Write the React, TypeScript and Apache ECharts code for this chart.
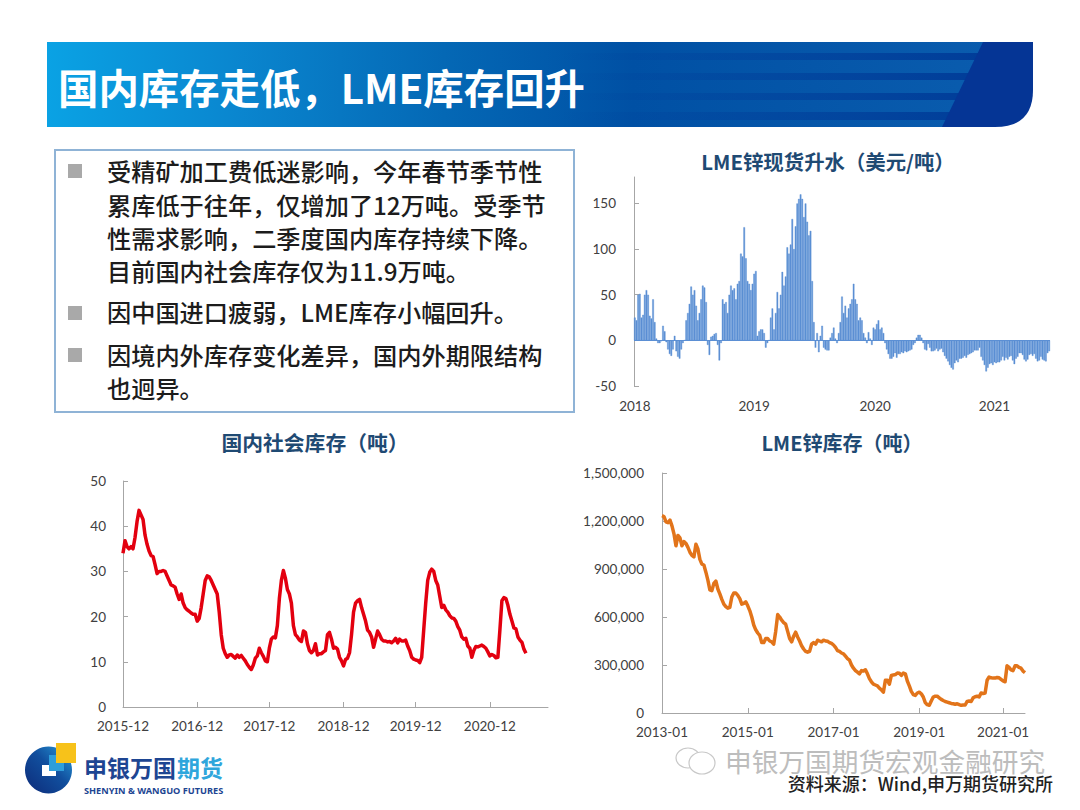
import React, { useEffect, useRef } from "react";
import * as echarts from "echarts";

const pageTitle = "国内库存走低，LME库存回升";
const bulletLines = [
  "受精矿加工费低迷影响，今年春节季节性",
  "累库低于往年，仅增加了12万吨。受季节",
  "性需求影响，二季度国内库存持续下降。",
  "目前国内社会库存仅为11.9万吨。",
  "因中国进口疲弱，LME库存小幅回升。",
  "因境内外库存变化差异，国内外期限结构",
  "也迥异。",
];
const lineCentersY = [170, 204, 237, 270, 311, 354, 387];
const bulletCentersY = [171, 313, 355];

const premiumTitle = "LME锌现货升水（美元/吨）";
const premiumTickLabels = ["2018", "2019", "2020", "2021"];
const premiumTickIdx = [0, 72, 145, 217];
const premiumValues = [
  25, 22, 50, 51, 25, 28, 50, 55, 50, 27,
  24, 45, 20, 2, -3, -3, -1, 16, 10, -2,
  -10, -15, -17, -10, 5, -12, -18, -20, -10, -3,
  0, 22, 30, 40, 59, 50, 55, 38, 22, 30,
  45, 60, 58, 42, -5, -16, 4, 5, 7, 8,
  -5, -22, -3, 45, 40, 42, 30, 50, 60, 55,
  57, 45, 62, 65, 95, 92, 124, 90, 65, 62,
  55, 62, 73, 76, 5, 10, 12, 12, 8, -8,
  -3, 0, 25, 35, 12, 30, 53, 35, 50, 75,
  60, 70, 102, 95, 105, 133, 100, 125, 150, 155,
  160, 155, 135, 150, 130, 115, 120, 65, 20, -8,
  8, -13, 5, 16, -8, -10, -11, -11, 3, 8,
  14, 2, -3, 8, 20, 48, 30, 38, 25, 35,
  40, 45, 62, 45, 40, 22, 25, 22, 8, 3,
  -3, 9, 2, -5, 14, 12, 18, 22, 12, 14,
  8, -3, -10, -15, -20, -20, -18, -14, -19, -15,
  -15, -13, -14, -12, -13, -12, -11, -10, -5, -3,
  3, 6, 6, 3, -3, -10, -11, -4, -8, -12,
  -12, -11, -9, -12, -10, -9, -13, -17, -20, -23,
  -27, -30, -32, -25, -22, -24, -20, -20, -19, -17,
  -19, -16, -15, -14, -13, -11, -11, -11, -8, -18,
  -22, -27, -34, -30, -26, -25, -27, -24, -25, -24,
  -24, -22, -18, -22, -19, -21, -18, -17, -22, -26,
  -20, -18, -14, -14, -16, -21, -23, -21, -16, -15,
  -17, -15, -20, -23, -22, -18, -21, -22, -23, -14, -12,
];

const socialTitle = "国内社会库存（吨）";
const socialTickLabels = ["2015-12", "2016-12", "2017-12", "2018-12", "2019-12", "2020-12"];
const socialTickIdx = [0, 37, 73, 110, 146, 183];
const socialCategoryCount = 213;
const socialValues = [
  34, 36.8, 35.5, 35, 35.5, 35, 37.5, 41, 43.5, 42.5, 41.5, 38, 36, 34.5, 33.5, 33.3, 31.5, 29.5,
  30, 30, 30.2, 30, 29, 28, 27, 26.8, 26.5, 25, 23.8, 25, 23, 22, 21.5, 21.2, 20.8, 20.5,
  20.5, 19, 19.6, 22, 25, 28, 29, 28.8, 28, 27, 26, 25, 21, 16, 13, 11.8, 11, 11.5,
  11.6, 11.2, 10.8, 11.5, 11, 11.4, 10.8, 10.2, 9.4, 8.8, 8.3, 9.3, 10.8, 11.3, 13, 12, 11.2, 10.2,
  10, 13, 15, 15.5, 15.3, 18, 24, 28, 30.2, 28.5, 26, 25, 23, 18, 16, 15.5, 14.8, 14.5,
  16.8, 16.5, 14, 12.5, 12, 12.5, 14, 11.5, 11.8, 11.8, 12.2, 12.5, 16, 16.5, 15, 13, 13.2, 12.8,
  11, 10.2, 9.1, 10.5, 10.8, 12, 16, 21, 23, 23.5, 23.8, 22, 20.5, 19, 17, 16.5, 15.5, 13.2,
  15, 16.8, 16, 15, 14.6, 14.6, 14.4, 14.5, 14.2, 14.6, 15.2, 14.2, 15, 14.6, 14.6, 14.8, 13.5, 12.5,
  11, 10.6, 10.4, 10.3, 9.8, 11, 17, 23, 28, 29.8, 30.5, 30, 28, 27, 24.5, 22, 22.5, 21.5,
  21, 20.2, 19.7, 19.6, 19, 17.8, 17, 15.5, 15, 15.2, 13.5, 13, 11, 12.5, 13.4, 13.3, 13.5, 13.7,
  13.4, 13, 12.2, 11.3, 11.6, 11.4, 10.9, 11, 17, 23.5, 24.2, 24, 22.5, 20.5, 19, 17.5, 17.3, 15.5,
  14.8, 14.3, 12.8, 11.9,
];

const lmeTitle = "LME锌库存（吨）";
const lmeTickLabels = ["2013-01", "2015-01", "2017-01", "2019-01", "2021-01"];
const lmeTickIdx = [0, 43, 86, 129, 171];
const lmeValues = [
  1233000, 1228000, 1195000, 1190000, 1205000, 1170000, 1120000, 1045000, 1110000, 1095000,
  1045000, 1072000, 1060000, 1035000, 1005000, 985000, 975000, 1055000, 1025000, 960000,
  930000, 925000, 880000, 830000, 770000, 765000, 810000, 825000, 775000, 745000,
  710000, 680000, 665000, 655000, 660000, 725000, 750000, 750000, 735000, 715000,
  680000, 685000, 695000, 670000, 640000, 600000, 550000, 520000, 500000, 485000,
  440000, 440000, 465000, 465000, 450000, 445000, 430000, 510000, 615000, 600000,
  580000, 565000, 555000, 510000, 465000, 445000, 480000, 505000, 475000, 450000,
  420000, 400000, 385000, 380000, 385000, 430000, 440000, 430000, 455000, 450000,
  445000, 455000, 450000, 448000, 440000, 435000, 425000, 410000, 390000, 385000,
  375000, 370000, 355000, 340000, 330000, 300000, 280000, 265000, 255000, 245000,
  265000, 262000, 270000, 245000, 215000, 195000, 180000, 175000, 170000, 155000,
  145000, 130000, 205000, 205000, 180000, 235000, 238000, 240000, 250000, 248000,
  235000, 250000, 245000, 200000, 170000, 135000, 115000, 110000, 125000, 130000,
  120000, 100000, 65000, 52000, 48000, 75000, 100000, 105000, 105000, 95000,
  85000, 78000, 72000, 68000, 64000, 60000, 58000, 55000, 58000, 52000,
  48000, 50000, 50000, 72000, 75000, 72000, 95000, 102000, 105000, 100000,
  125000, 122000, 125000, 205000, 225000, 220000, 218000, 218000, 222000, 220000,
  210000, 200000, 195000, 295000, 285000, 270000, 265000, 295000, 295000, 285000,
  280000, 262000, 252000,
];

const logoCn = ["申银万国", "期货"];
const logoEn = "SHENYIN & WANGUO FUTURES";
const watermark = "申银万国期货宏观金融研究";
const sourceNote = "资料来源：Wind,申万期货研究所";

const CJK = '"Noto Sans CJK SC"';
const NUM = "Lato";
const AXIS_GRAY = "#a6a6a6";
const LABEL = "#404040";
const TITLE = "#1f4a73";

const stripeBands = [
  [53, 7],
  [73, 7],
  [93, 7],
  [112, 8],
];

function cats(n: number, idx: number[], labels: string[]) {
  return Array.from({ length: n }, (_, i) => {
    const t = idx.indexOf(i);
    return t >= 0 ? labels[t] : `p${i}`;
  });
}

function xAxisOf(grid: number, n: number, idx: number[], labels: string[], bar: boolean) {
  const show = (i: number) => idx.includes(i);
  return {
    type: "category" as const,
    gridIndex: grid,
    data: cats(n, idx, labels),
    boundaryGap: bar,
    axisLine: { show: !bar, onZero: false, lineStyle: { color: AXIS_GRAY, width: 1 } },
    axisTick: { show: !bar, inside: true, length: 5, interval: (i: number) => show(i), lineStyle: { color: AXIS_GRAY } },
    axisLabel: {
      interval: (i: number) => show(i),
      margin: bar ? 13 : 12,
      color: LABEL,
      fontFamily: NUM,
      fontSize: 13.5,
      hideOverlap: false,
    },
    splitLine: { show: false },
  };
}

function yAxisBase(grid: number, margin: number) {
  return {
    type: "value" as const,
    gridIndex: grid,
    axisLine: { show: true, lineStyle: { color: AXIS_GRAY, width: 1 } },
    axisTick: { show: true, inside: true, length: 5, lineStyle: { color: AXIS_GRAY } },
    axisLabel: { margin, color: LABEL, fontFamily: NUM, fontSize: 13.5 },
    splitLine: { show: false },
  };
}

function text(t: string, x: number, y: number, font: string, fill: string, align = "left", extra: any = {}) {
  return {
    type: "text",
    silent: true,
    z: 20,
    style: { text: t, x, y, font, fill, textAlign: align, textVerticalAlign: "middle", ...extra },
  };
}

export default function App() {
  const ref = useRef<HTMLDivElement>(null);
  useEffect(() => {
    document.body.style.margin = "0";
    document.body.style.background = "#fff";
    echarts.graphic.registerShape(
      "bandCap",
      echarts.graphic.extendPath("M983 42 L1033 42 L1033 90 Q1033 127 995 127 L942 127 Z", {})
    );
    const chart = echarts.init(ref.current!, undefined, { renderer: "svg" });

    const h = (c0: string, c1: string) => ({
      type: "linear",
      x: 0,
      y: 0,
      x2: 1,
      y2: 0,
      colorStops: [
        { offset: 0, color: c0 },
        { offset: 1, color: c1 },
      ],
    });

    const graphics: any[] = [
      {
        type: "rect",
        silent: true,
        shape: { x: 47, y: 42, width: 945, height: 85 },
        style: {
          fill: {
            type: "linear",
            x: 0,
            y: 0,
            x2: 1,
            y2: 0,
            colorStops: [
              { offset: 0, color: "#0aa2e4" },
              { offset: 0.2, color: "#0a86cf" },
              { offset: 0.42, color: "#0468b5" },
              { offset: 0.62, color: "#0050a4" },
              { offset: 1, color: "#0a5cae" },
            ],
          },
        },
      },
      ...stripeBands.map(([y, hh]) => ({
        type: "rect",
        silent: true,
        shape: { x: 560, y, width: 432, height: hh },
        style: { fill: h("rgba(0,60,152,0)", "#003c98") },
      })),
      { type: "bandCap", x: 0, y: 0, silent: true, style: { fill: "#053595" } },
      text(pageTitle, 58, 86, `bold 40.4px ${CJK}`, "#ffffff"),

      {
        type: "rect",
        silent: true,
        shape: { x: 55, y: 150, width: 519, height: 262 },
        style: { fill: "#fff", stroke: "#8fb3d6", lineWidth: 2 },
      },
      ...bulletCentersY.map((y) => ({
        type: "rect",
        silent: true,
        shape: { x: 68, y: y - 7, width: 14, height: 14 },
        style: { fill: "#a9a9a9" },
      })),
      ...bulletLines.map((l, i) => text(l, 107, lineCentersY[i], `500 24.2px ${CJK}`, "#1c1c1c")),

      {
        type: "circle",
        silent: true,
        shape: { cx: 48.5, cy: 770, r: 23.5 },
        style: {
          fill: {
            type: "linear",
            x: 0,
            y: 1,
            x2: 1,
            y2: 0,
            colorStops: [
              { offset: 0, color: "#0d2a78" },
              { offset: 0.55, color: "#114f9e" },
              { offset: 1, color: "#2a9fdc" },
            ],
          },
        },
      },
      { type: "rect", silent: true, shape: { x: 42, y: 765, width: 14, height: 11 }, style: { fill: "#ffffff" } },
      { type: "rect", silent: true, shape: { x: 49, y: 755, width: 15, height: 16 }, style: { fill: "#2e9edb" } },
      { type: "rect", silent: true, shape: { x: 56, y: 743, width: 20, height: 20 }, style: { fill: "#f7c21a" } },
      text(logoCn[0], 84, 767, `bold 23px ${CJK}`, "#1d4592"),
      text(logoCn[1], 177, 767, `bold 23px ${CJK}`, "#2fa6dc"),
      text(logoEn, 84, 790, `bold 9.2px "Noto Sans"`, "#1d4592"),

      { type: "ellipse", silent: true, shape: { cx: 688, cy: 758, rx: 12, ry: 10 }, style: { fill: "none", stroke: "#c8c8c8", lineWidth: 1.2 } },
      { type: "ellipse", silent: true, shape: { cx: 702, cy: 763, rx: 13, ry: 11 }, style: { fill: "#fff", stroke: "#c8c8c8", lineWidth: 1.2 } },
      text(watermark, 725, 760, `400 26.7px ${CJK}`, "#bdbdbd"),
      text(sourceNote, 1053, 783, `500 18px ${CJK}`, "#222222", "right"),
    ];

    const titleStyle = (fontSize: number) => ({ fontFamily: CJK, fontSize, fontWeight: "bold" as const, color: TITLE });

    chart.setOption({
      animation: false,
      backgroundColor: "#ffffff",
      title: [
        { text: premiumTitle, left: 823, top: 146, textAlign: "center", textStyle: titleStyle(20.4) },
        { text: socialTitle, left: 310, top: 427, textAlign: "center", textStyle: titleStyle(20.8) },
        { text: lmeTitle, left: 837, top: 427, textAlign: "center", textStyle: titleStyle(20) },
      ],
      grid: [
        { left: 634, top: 177, width: 416, height: 209 },
        { left: 123, top: 481, width: 425, height: 226 },
        { left: 662, top: 473, width: 363, height: 240 },
      ],
      xAxis: [
        xAxisOf(0, premiumValues.length, premiumTickIdx, premiumTickLabels, true),
        xAxisOf(1, socialCategoryCount, socialTickIdx, socialTickLabels, false),
        xAxisOf(2, lmeValues.length, lmeTickIdx, lmeTickLabels, false),
      ],
      yAxis: [
        (() => {
          const b = yAxisBase(0, 18);
          const vals = [-50, 0, 50, 100, 150];
          return {
            ...b,
            min: -50,
            max: 179,
            interval: 50,
            axisTick: { ...b.axisTick, customValues: vals },
            axisLabel: { ...b.axisLabel, customValues: vals },
          };
        })(),
        { ...yAxisBase(1, 17), min: 0, max: 50, interval: 10 },
        (() => {
          const b = yAxisBase(2, 18);
          return {
            ...b,
            min: 0,
            max: 1500000,
            interval: 300000,
            axisLabel: { ...b.axisLabel, formatter: (v: number) => v.toLocaleString("en-US") },
          };
        })(),
      ],
      series: [
        {
          type: "bar",
          xAxisIndex: 0,
          yAxisIndex: 0,
          data: premiumValues,
          barCategoryGap: "0%",
          barWidth: "100%",
          itemStyle: { color: "#5b8fd4", borderColor: "#5b8fd4", borderWidth: 0.4 },
          markLine: {
            silent: true,
            symbol: "none",
            label: { show: false },
            lineStyle: { color: "#5b8fd4", width: 1, type: "solid" },
            data: [{ yAxis: 0 }],
          },
        },
        {
          type: "line",
          xAxisIndex: 1,
          yAxisIndex: 1,
          data: socialValues,
          showSymbol: false,
          symbol: "none",
          lineStyle: { color: "#e3000f", width: 3.5, join: "round" },
        },
        {
          type: "line",
          xAxisIndex: 2,
          yAxisIndex: 2,
          data: lmeValues,
          showSymbol: false,
          symbol: "none",
          lineStyle: { color: "#e2741a", width: 3.5, join: "round" },
        },
      ],
      graphic: { elements: graphics },
    });
    return () => chart.dispose();
  }, []);
  return <div ref={ref} style={{ width: 1080, height: 810 }} />;
}
